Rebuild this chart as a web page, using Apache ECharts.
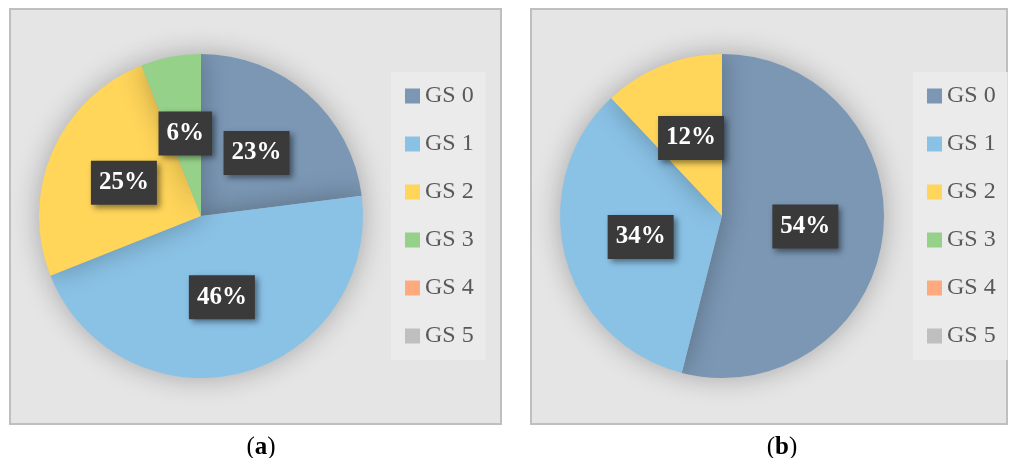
<!DOCTYPE html>
<html>
<head>
<meta charset="utf-8">
<script src="https://cdn.jsdelivr.net/npm/echarts@6/dist/echarts.min.js"></script>
<style>
  html, body { margin: 0; padding: 0; background: #ffffff; }
  #chart { width: 1009px; height: 458px; }
</style>
</head>
<body>
<div id="chart"></div>
<script>
// ---- data ----
const categories = ['GS 0', 'GS 1', 'GS 2', 'GS 3', 'GS 4', 'GS 5'];
const valuesA = [23, 46, 25, 6, 0, 0];
const valuesB = [54, 34, 12, 0, 0, 0];
const colors = ['#7B97B4', '#8AC2E6', '#FFD55A', '#96D18A', '#FFAA7E', '#BFBFBF'];
const captions = ['a', 'b'];

const serif = '"Liberation Serif", "DejaVu Serif", serif';

function buildData(values) {
  return categories.map((name, i) => ({
    name: name,
    value: values[i],
    label: { show: values[i] > 0 }
  }));
}

function pieSeries(values, center) {
  return {
    type: 'pie',
    center: center,
    radius: 162,
    startAngle: 90,
    clockwise: true,
    avoidLabelOverlap: false,
    silent: true,
    itemStyle: {
      shadowBlur: 28,
      shadowColor: 'rgba(0,0,0,0.28)'
    },
    label: {
      position: 'inside',
      formatter: '{c}%',
      color: '#ffffff',
      fontFamily: serif,
      fontWeight: 'bold',
      fontSize: 25,
      lineHeight: 25,
      backgroundColor: '#3A3A3A',
      padding: [10, 8, 9, 8],
      shadowColor: 'rgba(0,0,0,0.45)',
      shadowBlur: 6,
      shadowOffsetX: 3,
      shadowOffsetY: 3
    },
    labelLine: { show: false },
    emphasis: { disabled: true },
    data: buildData(values)
  };
}

function legendAt(left) {
  return {
    orient: 'vertical',
    left: left,
    top: 72,
    data: categories,
    icon: 'rect',
    itemWidth: 15,
    itemHeight: 15,
    itemGap: 24,
    padding: [12, 12, 12, 14],
    backgroundColor: '#EBEBEB',
    selectedMode: false,
    textStyle: {
      fontFamily: serif,
      fontSize: 24,
      lineHeight: 24,
      color: '#595959'
    }
  };
}

const chart = echarts.init(document.getElementById('chart'), null, { renderer: 'canvas' });

function captionTitle(text, x) {
  return {
    text: '({b|' + text + '})',
    left: x, top: 430, textAlign: 'center',
    textStyle: { fontFamily: serif, fontSize: 25, fontWeight: 'normal', color: '#000',
      rich: { b: { fontFamily: serif, fontSize: 25, fontWeight: 'bold', color: '#000' } } }
  };
}

chart.setOption({
  animation: false,
  color: colors,
  graphic: [
    { type: 'rect', z: -10, shape: { x: 10, y: 9, width: 491, height: 415 },
      style: { fill: '#E5E5E5', stroke: '#BFBFBF', lineWidth: 2 } },
    { type: 'rect', z: -10, shape: { x: 531, y: 9, width: 476, height: 415 },
      style: { fill: '#E5E5E5', stroke: '#BFBFBF', lineWidth: 2 } }
  ],
  title: [captionTitle(captions[0], 256), captionTitle(captions[1], 777)],
  legend: [legendAt(391), legendAt(913)],
  series: [
    pieSeries(valuesA, [201, 216]),
    pieSeries(valuesB, [722, 216])
  ]
});
</script>
</body>
</html>
